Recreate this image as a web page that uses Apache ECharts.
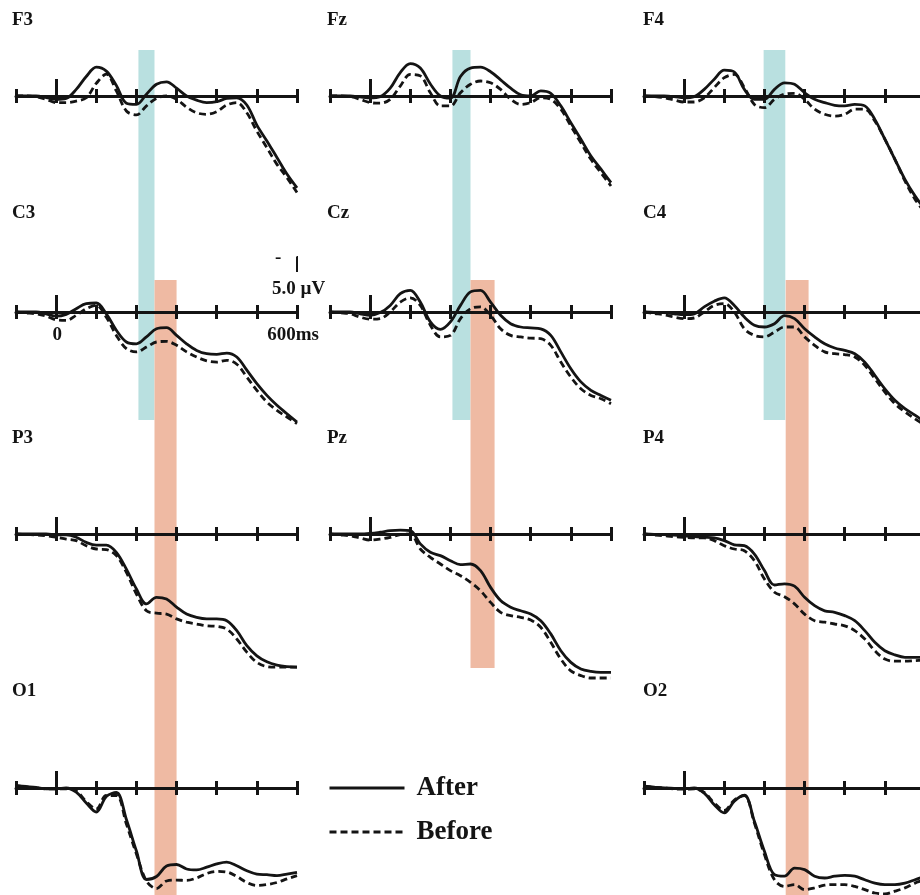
<!DOCTYPE html>
<html>
<head>
<meta charset="utf-8">
<title>ERP waveforms</title>
<script src="https://cdn.jsdelivr.net/npm/echarts@6/dist/echarts.min.js"></script>
<style>
  html, body { margin: 0; padding: 0; background: #ffffff; }
  #chart { width: 920px; height: 895px; }
</style>
</head>
<body>
<div id="chart"></div>
<script>
// Sample times (ms), one point every 25 ms from -100 to 600
const times = [-100, -75, -50, -25, 0, 25, 50, 75, 100, 125, 150, 175, 200, 225, 250,
  275, 300, 325, 350, 375, 400, 425, 450, 475, 500, 525, 550, 575, 600];

// Grand-average amplitudes (µV, negative plotted upward)
const F3_after  = [0, 0, 0, 0.5, 1.1, 0.8, -2.2, -6.5, -9.6, -8.3, -3.5, 2.4, 2.8, -0.6, -3.9, -4.7, -2.6, 0, 1.4, 2.2, 1.9, 0.8, 0.6, 3, 9.7, 15, 20.5, 26, 30.6];
const F3_before = [0, 0, 0.3, 1.1, 2.2, 2.2, 1.7, 0.6, -4.2, -7.3, -1.7, 5, 6.3, 3.3, 0.8, 0, 1.1, 3.7, 5.6, 6.1, 5.2, 3, 2.2, 5.6, 11.7, 17.2, 22.8, 27.2, 32.2];
const Fz_after  = [0, 0, 0, 0.3, 0.6, 0.2, -2.6, -7.8, -10.8, -9.3, -4, 0, 0.7, -6.5, -9.3, -9.6, -8.1, -5.4, -2.6, -0.4, 0, -1.7, -0.9, 3.3, 8.9, 14.4, 20, 24.4, 28.9];
const Fz_before = [0, 0, 0.2, 1.1, 2.2, 2.4, 1.1, -3.3, -7.2, -6.7, -1.1, 3.3, 3.3, -1.1, -3.9, -5, -4.4, -2.2, 1.1, 2.8, 2.2, 0.6, 1.1, 4.4, 10, 15.6, 21.1, 25.6, 30];
const F4_after  = [0, 0, 0, 0.2, 0.6, 0.2, -2.2, -5.6, -8.6, -8, -2.2, 1.1, 1.1, -2.2, -4.4, -3.9, -1.1, 1.1, 2.2, 3.1, 3.3, 2.8, 3.3, 7.8, 14.4, 21.1, 27.8, 33.3, 37.8];
const F4_before = [0, 0.2, 0.6, 1.3, 2, 2, 0.6, -2.8, -6.1, -7.2, -2.8, 2.8, 3.9, 1.1, -0.6, -0.9, 1.1, 4.4, 6.1, 6.7, 6.1, 4.4, 4.4, 8.3, 14.4, 21.1, 28.3, 34.4, 38.9];
const C3_after  = [0, 0, 0, 0.6, 1.4, 0.8, -1.1, -2.8, -3, 0.6, 6.1, 10, 10.6, 8.3, 5.6, 5.2, 7.8, 10.6, 12.8, 13.9, 14.1, 13.7, 15, 19.4, 23.9, 27.8, 31.1, 33.9, 36.7];
const C3_before = [0, 0.3, 0.6, 1.4, 2.6, 2.8, 1.1, -1.1, -2.2, 1.7, 7.8, 12.2, 13.3, 11.7, 10, 9.8, 11.1, 13.3, 15, 16.3, 16.7, 16.1, 17.4, 21.7, 26.1, 30, 32.8, 35, 37.2];
const Cz_after  = [0, 0, 0, 0.6, 1.1, 0.2, -2.2, -6.1, -7.2, -3.3, 3.3, 5.8, 3.3, -2.2, -6.7, -7.2, -3.3, 1.1, 3.9, 5, 5.3, 5.6, 7.8, 13.3, 18.9, 23.3, 26.1, 27.8, 29.4];
const Cz_before = [0, 0.3, 0.6, 1.7, 2.4, 2.2, 0, -3.3, -4.7, -2.2, 4.4, 8.3, 7.8, 2.2, -1.1, -1.7, 1.1, 5.6, 7.8, 8.3, 8.7, 8.9, 11.1, 16.7, 21.7, 25.6, 27.8, 28.9, 30.6];
const C4_after  = [0, 0.1, 0.2, 0.6, 0.9, 0.6, -1.7, -3.6, -4.7, -2.2, 1.7, 4.4, 5, 3.9, 1.2, 2.2, 5.6, 8.3, 10.6, 12, 12.8, 13.9, 16.7, 21.1, 25.6, 29.4, 32.2, 34.4, 36.7];
const C4_before = [0, 0.5, 0.9, 1.7, 2.2, 2, 0, -2.2, -2.8, 0, 5.6, 7.8, 8.3, 6.7, 5, 5, 8.3, 11.1, 13.3, 13.9, 14.2, 15, 17.8, 22.2, 26.7, 30.6, 33.3, 35.6, 37.8];
const P3_after  = [0, 0, 0, 0, 0.3, 0.3, 1.1, 2.8, 3.7, 3.7, 6.1, 11.7, 18.3, 23.3, 21.1, 21.7, 24.4, 26.7, 27.8, 28.3, 28.3, 28.9, 32.2, 37.2, 40.6, 42.6, 43.7, 44.2, 44.4];
const P3_before = [0, 0.2, 0.3, 0.6, 1.1, 1.7, 2.2, 3.9, 5, 5.2, 7.2, 12.8, 20, 25.6, 26.4, 26.7, 28.3, 29.4, 30, 30.6, 30.8, 31.7, 35, 39.4, 42.8, 44.2, 44.4, 44.4, 44.4];
const Pz_after  = [0, 0, 0, 0, -0.2, -0.6, -1.1, -1.3, -1.1, 3.3, 6.1, 7.2, 8.9, 10.2, 10, 12.2, 17.8, 22.2, 24.4, 25.6, 26.7, 28.9, 33.3, 38.9, 42.8, 45, 45.8, 46.1, 46.1];
const Pz_before = [0, 0.3, 0.6, 1.3, 2, 1.7, 1.1, 0.2, 0, 5, 7.8, 10, 12.2, 13.9, 16.1, 18.9, 22.8, 26.1, 27.2, 27.8, 28.7, 31.1, 36.1, 41.7, 45.6, 47.2, 48, 48, 48];
const P4_after  = [0, 0.1, 0.2, 0.4, 0.6, 0.9, 1.1, 1.3, 2.2, 3.6, 3.9, 6.7, 12.2, 17, 16.6, 17.4, 21.1, 23.9, 25.6, 26.1, 27.2, 28.9, 32.2, 36.1, 38.9, 40.3, 41.1, 41.1, 41.1];
const P4_before = [0, 0.3, 0.6, 0.9, 1.1, 1.3, 1.3, 2.2, 3.9, 5, 5.6, 8.9, 15, 19.4, 20.9, 23.3, 26.7, 28.9, 29.4, 30, 30.6, 32.2, 35, 38.9, 41.7, 42.4, 42.4, 42.2, 42];
const O1_after  = [-0.8, -0.5, -0.2, 0.3, 0.3, 0, 1.4, 5, 8, 2.8, 1.5, 10.5, 21, 30.5, 29.5, 26, 25.5, 27, 27.3, 26.4, 25.3, 24.7, 25.9, 27.6, 28.7, 28.9, 29.2, 28.7, 28.1];
const O1_before = [-0.8, -0.3, 0, 0.3, 0.3, 0.3, 1, 4.5, 7, 2.5, 2.5, 12, 22, 31, 33.5, 31, 30.7, 30.8, 30, 28.5, 27.8, 28, 29.5, 31.5, 32.5, 32.2, 31.5, 30.3, 29.2];
const O2_after  = [-0.6, -0.3, 0, 0.1, 0.2, 0, 1.7, 5.6, 8.3, 4.4, 2.4, 11.1, 21.1, 28.9, 29.4, 26.7, 27.2, 29.4, 30, 29.4, 29.1, 29.4, 30.6, 31.7, 32.2, 32.2, 31.7, 30.6, 29.4];
const O2_before = [-0.6, -0.2, 0, 0.3, 0.4, 0.3, 1.5, 5, 7.5, 4, 2.5, 11.7, 22.2, 30.6, 32.8, 32.2, 33.9, 33.3, 32.4, 32.2, 32.2, 32.8, 33.9, 35, 35.3, 34.4, 33.3, 31.7, 30.6];

// Electrode layout on the scalp grid (row, column)
const electrodes = [
  { name: 'F3', row: 0, col: 0, after: F3_after, before: F3_before },
  { name: 'Fz', row: 0, col: 1, after: Fz_after, before: Fz_before },
  { name: 'F4', row: 0, col: 2, after: F4_after, before: F4_before },
  { name: 'C3', row: 1, col: 0, after: C3_after, before: C3_before },
  { name: 'Cz', row: 1, col: 1, after: Cz_after, before: Cz_before },
  { name: 'C4', row: 1, col: 2, after: C4_after, before: C4_before },
  { name: 'P3', row: 2, col: 0, after: P3_after, before: P3_before },
  { name: 'Pz', row: 2, col: 1, after: Pz_after, before: Pz_before },
  { name: 'P4', row: 2, col: 2, after: P4_after, before: P4_before },
  { name: 'O1', row: 3, col: 0, after: O1_after, before: O1_before },
  { name: 'O2', row: 3, col: 2, after: O2_after, before: O2_before }
];

// Analysis windows (ms) highlighted in each column
const earlyWindows = [[205, 245], [205, 250], [198, 252]];
const lateWindows  = [[245, 300], [250, 310], [253, 310]];

// Time axis ticks and the labelled ones
const timeMin = -100, timeMax = 600, timeStep = 100;
const timeLabels = [0, 600];
const scaleBarUV = 5.0;

// ---- layout ----
const W = 920, H = 895;
const colLeft = [16, 330, 644];
const plotW = 281;
const rowAxisY = [96, 312, 534, 788];
const pxPerUV = 3;
const yMin = -20, yMax = 60;
const titleX = [12, 327, 643];
const titleTop = [11, 204, 429, 682];
const FONT = "'Liberation Serif', 'Times New Roman', serif";
const INK = '#141414';
const earlyColor = '#b9e0e0';
const lateColor = '#efbaa3';

const grid = [], xAxis = [], yAxis = [], series = [], graphic = [];

function timeToX(col, t) {
  return colLeft[col] + (t - timeMin) / (timeMax - timeMin) * plotW;
}

function timeAxis(g, extra) {
  return Object.assign({
    type: 'value', gridIndex: g, min: timeMin, max: timeMax, interval: timeStep,
    position: 'bottom', z: 3,
    splitLine: { show: false },
    axisLabel: { show: false },
    axisLine: { show: false, onZero: true, onZeroAxisIndex: g, lineStyle: { color: INK, width: 3 } },
    axisTick: { show: true, inside: true, length: 7, lineStyle: { color: INK, width: 3 } }
  }, extra);
}

electrodes.forEach((e, g) => {
  const axisY = rowAxisY[e.row];
  grid.push({
    left: colLeft[e.col], width: plotW,
    top: axisY + yMin * pxPerUV, height: (yMax - yMin) * pxPerUV,
    outerBoundsMode: 'none'
  });
  yAxis.push({ type: 'value', gridIndex: g, min: yMin, max: yMax, inverse: true, show: false });

  // axis line with the upper half of the ticks
  xAxis.push(timeAxis(g, {
    axisLine: { show: true, onZero: true, onZeroAxisIndex: g, lineStyle: { color: INK, width: 3 } }
  }));
  // lower half of the ticks
  xAxis.push(timeAxis(g, {
    axisTick: { show: true, inside: false, length: 7, lineStyle: { color: INK, width: 3 } }
  }));
  // taller stimulus-onset tick at 0 ms
  xAxis.push(timeAxis(g, {
    axisTick: { show: true, inside: true, length: 17, customValues: [0], lineStyle: { color: INK, width: 3 } }
  }));

  const xi = g * 3;
  series.push({
    type: 'line', name: 'After', xAxisIndex: xi, yAxisIndex: g,
    data: times.map((t, i) => [t, e.after[i]]),
    smooth: 0.35, symbol: 'none', silent: true, z: 5, color: INK,
    lineStyle: { color: INK, width: 2.8 }
  });
  series.push({
    type: 'line', name: 'Before', xAxisIndex: xi, yAxisIndex: g,
    data: times.map((t, i) => [t, e.before[i]]),
    smooth: 0.35, symbol: 'none', silent: true, z: 5, color: INK,
    lineStyle: { color: INK, width: 2.8, type: [7, 4] }
  });

  graphic.push({
    type: 'text', left: titleX[e.col], top: titleTop[e.row], z: 10,
    style: { text: e.name, font: 'bold 19px ' + FONT, fill: INK }
  });

  if (e.name === 'C3') {
    // voltage calibration bar at the end of the time axis
    const top = -18.3;
    series.push({
      type: 'line', name: 'scale', xAxisIndex: xi, yAxisIndex: g,
      data: [[timeMax + 14, top], [timeMax, top], [timeMax, top + scaleBarUV]],
      symbol: 'none', silent: true, clip: false, z: 5,
      lineStyle: { color: INK, width: 2 }
    });
    graphic.push({
      type: 'text', left: 275, top: 249, z: 10,
      style: { text: '-', font: 'bold 19px ' + FONT, fill: INK }
    });
    graphic.push({
      type: 'text', left: 272, top: 280, z: 10,
      style: { text: scaleBarUV.toFixed(1) + ' µV', font: 'bold 19px ' + FONT, fill: INK }
    });
    // time labels under the C3 axis
    timeLabels.forEach(t => {
      graphic.push({
        type: 'text', x: timeToX(e.col, t) + (t === timeMax ? -4 : 1), y: axisY + 14, z: 10,
        style: {
          text: t === timeMax ? t + 'ms' : String(t),
          font: 'bold 19px ' + FONT, fill: INK, align: 'center', verticalAlign: 'top'
        }
      });
    });
  }
});

// Column-wide background grids for the shaded analysis windows
const bandTop = { early: rowAxisY[0] - 46, late: rowAxisY[1] - 32 };
const bandBottom = { early: rowAxisY[1] + 108, late: [H, rowAxisY[2] + 134, H] };
[0, 1, 2].forEach(c => {
  const g = grid.length;
  grid.push({ left: colLeft[c], width: plotW, top: 0, height: H, outerBoundsMode: 'none' });
  xAxis.push({ type: 'value', gridIndex: g, min: timeMin, max: timeMax, show: false });
  yAxis.push({ type: 'value', gridIndex: g, min: 0, max: H, inverse: true, show: false });
  series.push({
    type: 'custom', xAxisIndex: xAxis.length - 1, yAxisIndex: yAxis.length - 1,
    silent: true, z: 0,
    data: [
      { value: [earlyWindows[c][0], earlyWindows[c][1], bandTop.early, bandBottom.early], itemStyle: { color: earlyColor } },
      { value: [lateWindows[c][0], lateWindows[c][1], bandTop.late, bandBottom.late[c]], itemStyle: { color: lateColor } }
    ],
    renderItem: (params, api) => {
      const p0 = api.coord([api.value(0), api.value(2)]);
      const p1 = api.coord([api.value(1), api.value(3)]);
      return {
        type: 'rect',
        shape: { x: p0[0], y: p0[1], width: p1[0] - p0[0], height: p1[1] - p0[1] },
        style: api.style()
      };
    }
  });
});

const chart = echarts.init(document.getElementById('chart'), null, { renderer: 'canvas' });
chart.setOption({
  animation: false,
  backgroundColor: '#ffffff',
  grid, xAxis, yAxis, series, graphic,
  legend: {
    data: ['After', 'Before'], orient: 'vertical', left: 328, top: 773, padding: 0,
    itemWidth: 75, itemHeight: 14, itemGap: 14, selectedMode: false,
    itemStyle: { color: 'rgba(0,0,0,0)', borderWidth: 0, opacity: 0 },
    lineStyle: { width: 3 },
    textStyle: { fontFamily: FONT, fontWeight: 'bold', fontSize: 27, color: INK, lineHeight: 30, padding: [0, 0, 0, 7] }
  }
});
</script>
</body>
</html>
